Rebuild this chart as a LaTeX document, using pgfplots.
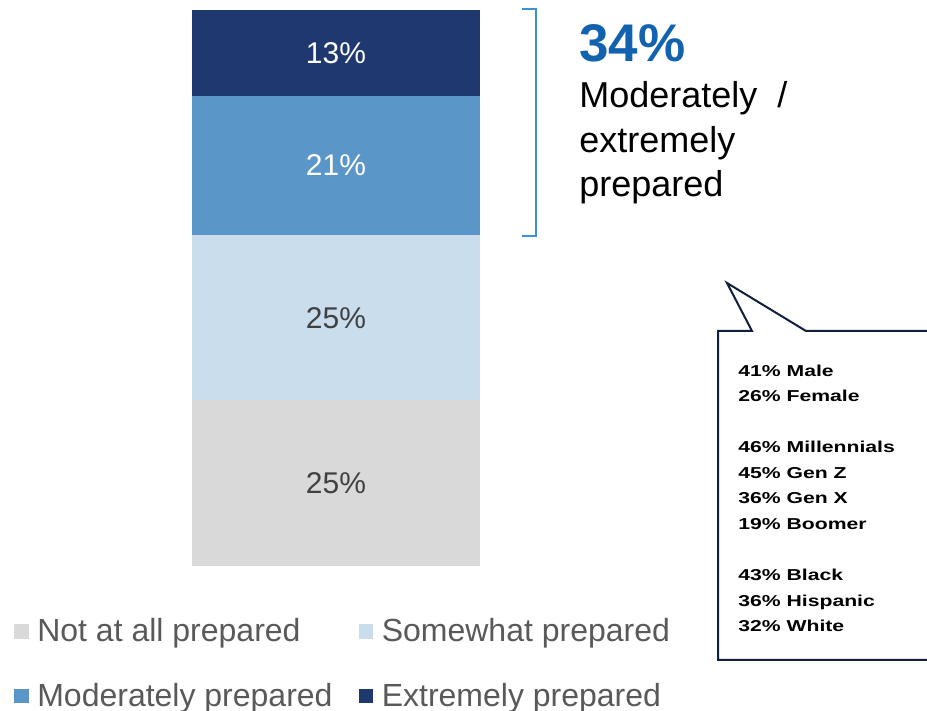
\documentclass[border=0pt]{standalone}
\usepackage{pgfplots}
\pgfplotsset{compat=1.18}
\usepackage{fontspec}
\setmainfont{Liberation Sans}
\newfontfamily\calloutfont[FakeStretch=1.34]{Liberation Sans}
\definecolor{cExt}{RGB}{31,56,112}
\definecolor{cMod}{RGB}{91,150,200}
\definecolor{cSom}{RGB}{201,221,237}
\definecolor{cNot}{RGB}{217,217,217}
\definecolor{cBlue}{RGB}{18,98,176}
\definecolor{cBracket}{RGB}{60,147,211}
\definecolor{cNavy}{RGB}{14,31,63}
\definecolor{cLeg}{RGB}{89,89,89}
\definecolor{cLab}{RGB}{64,64,64}
\begin{document}
\begin{tikzpicture}
\begin{axis}[
  scale only axis, width=463.5pt, height=355.5pt,
  xmin=0, xmax=927, ymin=-21.91, ymax=85.51,
  hide axis, clip=false,
  ybar stacked, bar width=288,
  /pgf/number format/assume math mode=true,
  nodes near coords={\pgfmathprintnumber{\pgfplotspointmeta}\%},
  every node near coord/.append style={anchor=center, font=\fontsize{15}{18}\selectfont},
  legend columns=2,
  legend image code/.code={\fill[#1] (0pt,-3.7pt) rectangle (7.4pt,3.7pt); \path (9.6pt,0pt);},
  legend style={at={(axis description cs:0.0148,0.136)}, anchor=north west, draw=none, fill=none,
    inner sep=0pt, row sep=15pt, cells={anchor=west},
    font=\fontsize{16}{19}\selectfont, text=cLeg,
    /tikz/every even column/.append style={column sep=11pt}},
]
\addplot[fill=cNot, draw=none, every node near coord/.append style={text=cLab}] coordinates {(336,25)};
\addlegendentry{Not at all prepared}
\addplot[fill=cSom, draw=none, every node near coord/.append style={text=cLab}] coordinates {(336,25)};
\addlegendentry{Somewhat prepared}
\addplot[fill=cMod, draw=none, every node near coord/.append style={text=white}] coordinates {(336,21)};
\addlegendentry{Moderately prepared}
\addplot[fill=cExt, draw=none, every node near coord/.append style={text=white}] coordinates {(336,13)};
\addlegendentry{Extremely prepared}
\end{axis}
\begin{scope}[x=0.5pt, y=-0.5pt, yshift=355.5pt]
  % bracket
  \draw[cBracket, line width=0.7pt] (522,9) -- (536,9) -- (536,236) -- (522,236);
  % headline
  \node[anchor=base west, inner sep=0pt, text=cBlue, font=\fontsize{26.5}{30}\selectfont\bfseries] at (579,62) {34\%};
  \node[anchor=base west, inner sep=0pt, font=\fontsize{18}{22}\selectfont] at (579,108) {Moderately \ /};
  \node[anchor=base west, inner sep=0pt, font=\fontsize{18}{22}\selectfont] at (579,153) {extremely};
  \node[anchor=base west, inner sep=0pt, font=\fontsize{18}{22}\selectfont] at (579,197) {prepared};
  % callout
  \draw[cNavy, line width=1pt, line join=miter] (930,331) -- (806,331) -- (727,283) -- (752,331) -- (718,331) -- (718,660) -- (930,660);
  \foreach \t/\y in {41\% Male/377, 26\% Female/402, 46\% Millennials/453, 45\% Gen Z/479, 36\% Gen X/504, 19\% Boomer/530, 43\% Black/581, 36\% Hispanic/607, 32\% White/632}
    \node[anchor=base west, inner sep=0pt, font=\calloutfont\fontsize{7.9}{9}\selectfont\bfseries] at (738,\y) {\t};
\end{scope}
\pgfresetboundingbox
\useasboundingbox (0,0) rectangle (463.5pt,355.5pt);
\end{tikzpicture}
\end{document}
